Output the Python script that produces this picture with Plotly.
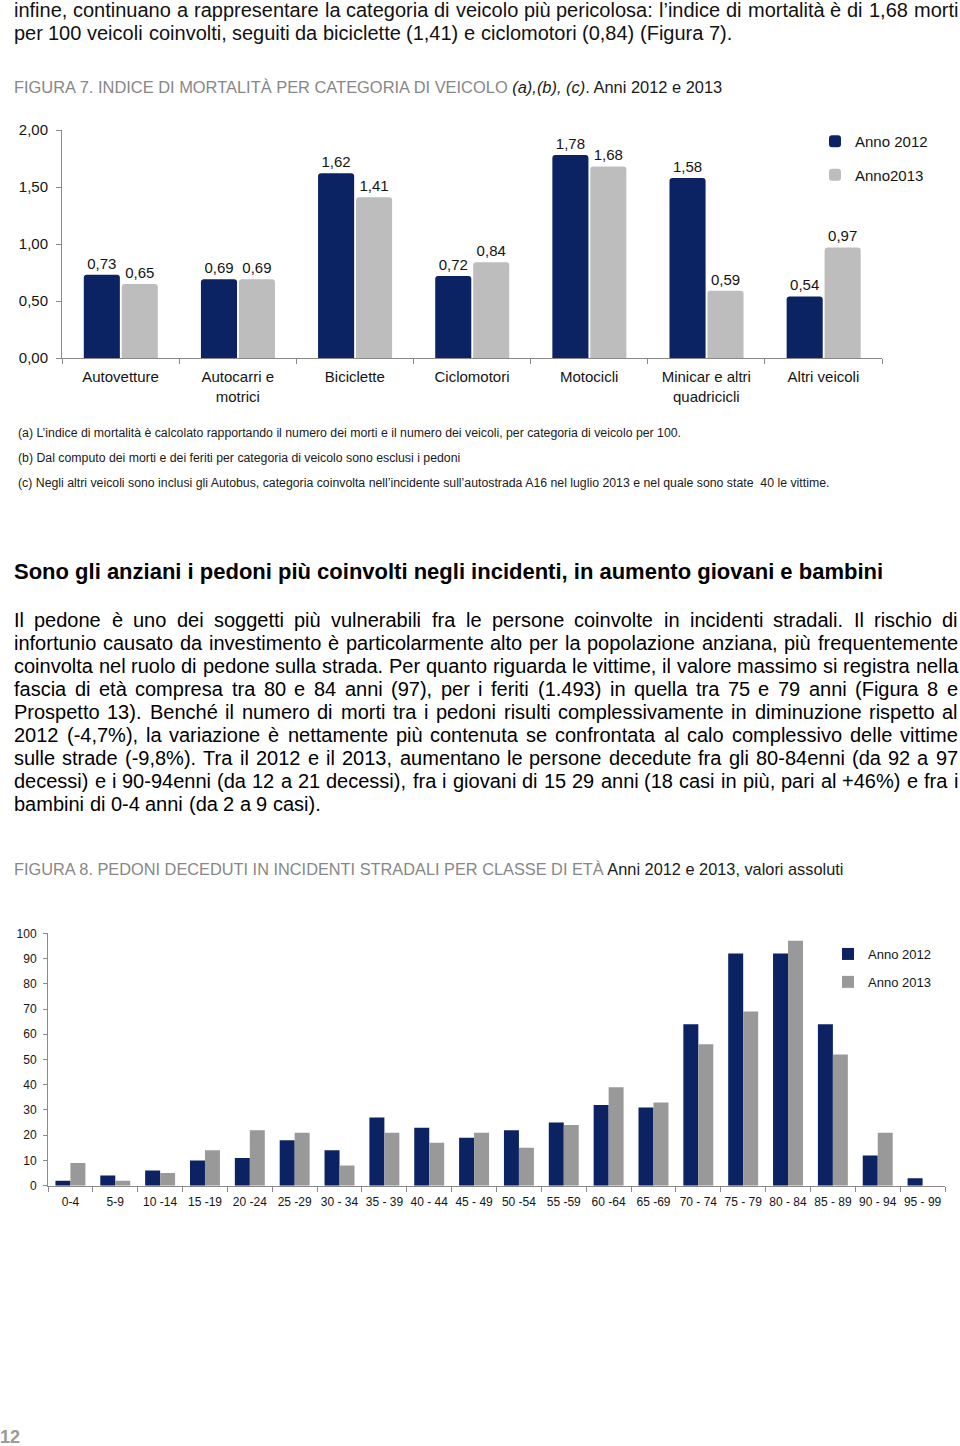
import plotly.graph_objects as go

W, H = 960, 1446

# ---------------- data ----------------
vehicle_categories = ["Autovetture", "Autocarri e<br>motrici", "Biciclette", "Ciclomotori",
                      "Motocicli", "Minicar e altri<br>quadricicli", "Altri veicoli"]
mortality_2012 = [0.73, 0.69, 1.62, 0.72, 1.78, 1.58, 0.54]
mortality_2013 = [0.65, 0.69, 1.41, 0.84, 1.68, 0.59, 0.97]
fig7_yticks = [0.0, 0.5, 1.0, 1.5, 2.0]

age_classes = ["0-4", "5-9", "10 -14", "15 -19", "20 -24", "25 -29", "30 - 34", "35 - 39",
               "40 - 44", "45 - 49", "50 -54", "55 -59", "60 -64", "65 -69", "70 - 74",
               "75 - 79", "80 - 84", "85 - 89", "90 - 94", "95 - 99"]
pedestrians_2012 = [2, 4, 6, 10, 11, 18, 14, 27, 23, 19, 22, 25, 32, 31, 64, 92, 92, 64, 12, 3]
pedestrians_2013 = [9, 2, 5, 14, 22, 21, 8, 21, 17, 21, 15, 24, 39, 33, 56, 69, 97, 52, 21, 0]
fig8_yticks = [0, 10, 20, 30, 40, 50, 60, 70, 80, 90, 100]

intro_lines = [
    "infine, continuano a rappresentare la categoria di veicolo più pericolosa: l’indice di mortalità è di 1,68 morti",
    "per 100 veicoli coinvolti, seguiti da biciclette (1,41) e ciclomotori (0,84) (Figura 7).",
]
fig7_title_gray = "FIGURA 7. INDICE DI MORTALITÀ PER CATEGORIA DI VEICOLO"
fig7_title_notes = "(a),(b), (c)"
fig7_title_rest = ". Anni 2012 e 2013"
footnotes = [
    "(a) L’indice di mortalità è calcolato rapportando il numero dei morti e il numero dei veicoli, per categoria di veicolo per 100.",
    "(b) Dal computo dei morti e dei feriti per categoria di veicolo sono esclusi i pedoni",
    "(c) Negli altri veicoli sono inclusi gli Autobus, categoria coinvolta nell’incidente sull’autostrada A16 nel luglio 2013 e nel quale sono state  40 le vittime.",
]
heading = "Sono gli anziani i pedoni più coinvolti negli incidenti, in aumento giovani e bambini"
paragraph_lines = [
    "Il pedone è uno dei soggetti più vulnerabili fra le persone coinvolte in incidenti stradali. Il rischio di",
    "infortunio causato da investimento è particolarmente alto per la popolazione anziana, più frequentemente",
    "coinvolta nel ruolo di pedone sulla strada. Per quanto riguarda le vittime, il valore massimo si registra nella",
    "fascia di età compresa tra 80 e 84 anni (97), per i feriti (1.493) in quella tra 75 e 79 anni (Figura 8 e",
    "Prospetto 13). Benché il numero di morti tra i pedoni risulti complessivamente in diminuzione rispetto al",
    "2012 (-4,7%), la variazione è nettamente più contenuta se confrontata al calo complessivo delle vittime",
    "sulle strade (-9,8%). Tra il 2012 e il 2013, aumentano le persone decedute fra gli 80-84enni (da 92 a 97",
    "decessi) e i 90-94enni (da 12 a 21 decessi), fra i giovani di 15 29 anni (18 casi in più, pari al +46%) e fra i",
    "bambini di 0-4 anni (da 2 a 9 casi).",
]
fig8_title_gray = "FIGURA 8. PEDONI DECEDUTI IN INCIDENTI STRADALI PER CLASSE DI ETÀ"
fig8_title_rest = " Anni 2012 e 2013, valori assoluti"
page_number = "12"

# ---------------- styles ----------------
NAVY = "#0b2263"
GRAY1 = "#bdbdbd"
GRAY2 = "#999999"
AXIS = "#8a8a8a"
TITLE_GRAY = "#878787"
TXT = "#141414"
SANS = "Liberation Sans, Arial, sans-serif"


def px(x):
    return x / W


def py(y):
    return 1 - y / H


def fmt_it(v):
    return f"{v:.2f}".replace(".", ",")


ARIAL = {" ": 278, "!": 278, "%": 889, "'": 191, "’": 222, "(": 333, ")": 333, "+": 584, ",": 278,
         "-": 333, ".": 278, "/": 278, ":": 278, ";": 278,
         "A": 667, "B": 667, "C": 722, "D": 722, "E": 667, "F": 611, "G": 778, "H": 722, "I": 278,
         "J": 500, "K": 667, "L": 556, "M": 833, "N": 722, "O": 778, "P": 667, "Q": 778, "R": 722,
         "S": 667, "T": 611, "U": 722, "V": 667, "W": 944, "X": 667, "Y": 667, "Z": 611,
         "À": 667,
         "a": 556, "b": 556, "c": 500, "d": 556, "e": 556, "f": 278, "g": 556, "h": 556, "i": 222,
         "j": 222, "k": 500, "l": 222, "m": 833, "n": 556, "o": 556, "p": 556, "q": 556, "r": 333,
         "s": 500, "t": 278, "u": 556, "v": 500, "w": 722, "x": 500, "y": 500, "z": 500,
         "à": 556, "è": 556, "é": 556, "ù": 556, "ì": 222, "ò": 556}
for d in "0123456789":
    ARIAL[d] = 556


def tw(s, size):
    return sum(ARIAL.get(c, 556) for c in s) * size / 1000.0


fig = go.Figure()

# ---------------- Figure 7 ----------------
fig.add_trace(go.Bar(
    x=vehicle_categories, y=mortality_2012, name="Anno 2012",
    marker=dict(color=NAVY, cornerradius=3, line=dict(width=0)),
    width=0.308, offset=-0.314,
    text=[fmt_it(v) for v in mortality_2012], textposition="outside", constraintext="none",
    textfont=dict(family=SANS, size=15, color=TXT), cliponaxis=False,
    xaxis="x", yaxis="y", legend="legend", legendgroup="a", hoverinfo="skip"))
fig.add_trace(go.Bar(
    x=vehicle_categories, y=mortality_2013, name="Anno2013",
    marker=dict(color=GRAY1, cornerradius=3, line=dict(width=0)),
    width=0.308, offset=0.01,
    text=[fmt_it(v) for v in mortality_2013], textposition="outside", constraintext="none",
    textfont=dict(family=SANS, size=15, color=TXT), cliponaxis=False,
    xaxis="x", yaxis="y", legend="legend", legendgroup="b", hoverinfo="skip"))

# ---------------- Figure 8 ----------------
fig.add_trace(go.Bar(
    x=age_classes, y=pedestrians_2012, name="Anno 2012",
    marker=dict(color=NAVY, line=dict(width=0)),
    width=0.334, offset=-0.334,
    xaxis="x2", yaxis="y2", legend="legend2", legendgroup="c", hoverinfo="skip"))
fig.add_trace(go.Bar(
    x=age_classes, y=pedestrians_2013, name="Anno 2013",
    marker=dict(color=GRAY2, line=dict(width=0)),
    width=0.334, offset=0.0,
    xaxis="x2", yaxis="y2", legend="legend2", legendgroup="d", hoverinfo="skip"))

fig.update_layout(
    width=W, height=H, margin=dict(l=0, r=0, t=0, b=0, autoexpand=False),
    paper_bgcolor="white", plot_bgcolor="white", separators=",.",
    font=dict(family=SANS, color=TXT),
    barmode="group", showlegend=True,
    xaxis=dict(domain=[px(62), px(882)], anchor="y", type="category", range=[-0.5, 6.5],
               showline=True, linecolor=AXIS, linewidth=1, ticks="outside", tickson="boundaries",
               ticklen=5, tickcolor=AXIS, showgrid=False, tickfont=dict(family=SANS, size=15, color=TXT),
               ticklabelstandoff=5, fixedrange=True, automargin=False),
    yaxis=dict(domain=[py(358), py(130)], anchor="x", range=[0, 2], tickvals=fig7_yticks,
               tickformat=".2f", showline=True, linecolor=AXIS, linewidth=1, ticks="outside",
               ticklen=5, tickcolor=AXIS, showgrid=False, zeroline=False, ticklabelstandoff=5,
               tickfont=dict(family=SANS, size=15, color=TXT), fixedrange=True, automargin=False),
    xaxis2=dict(domain=[px(48), px(945)], anchor="y2", type="category", range=[-0.5, 19.5],
                showline=True, linecolor=AXIS, linewidth=1, ticks="outside", tickson="boundaries",
                ticklen=5, tickcolor=AXIS, showgrid=False, tickfont=dict(family=SANS, size=12, color=TXT),
                ticklabelstandoff=5, tickangle=0, fixedrange=True, automargin=False),
    yaxis2=dict(domain=[py(1185.7), py(933.3)], anchor="x2", range=[0, 100], tickvals=fig8_yticks,
                showline=True, linecolor=AXIS, linewidth=1, ticks="outside", ticklen=4, tickcolor=AXIS,
                showgrid=False, zeroline=False, ticklabelstandoff=4,
                tickfont=dict(family=SANS, size=12, color=TXT), fixedrange=True, automargin=False),
    legend=dict(x=px(815), y=py(125), xanchor="left", yanchor="top", bgcolor="rgba(0,0,0,0)",
                borderwidth=0, font=dict(family=SANS, size=15, color=TXT), tracegroupgap=11,
                traceorder="grouped"),
    legend2=dict(x=px(828), y=py(939), xanchor="left", yanchor="top", bgcolor="rgba(0,0,0,0)",
                 borderwidth=0, font=dict(family=SANS, size=13, color=TXT), tracegroupgap=8,
                 traceorder="grouped"),
)

annotations = []


def add_text(x, y, text, size, color=TXT, anchor="left"):
    annotations.append(dict(x=px(x), y=py(y), xref="paper", yref="paper", text=text,
                            showarrow=False, xanchor=anchor, yanchor="middle",
                            borderpad=0, borderwidth=0,
                            font=dict(family=SANS, size=size, color=color)))


def add_line(line, y, size, x0, x1, justify, color=TXT):
    words = line.split(" ")
    widths = [tw(w, size) for w in words]
    space_w = tw(" ", size)
    natural = sum(widths) + space_w * (len(words) - 1)
    extra = (x1 - x0 - natural) / (len(words) - 1) if (justify and len(words) > 1) else 0
    x = x0
    for w, wd in zip(words, widths):
        if w:
            add_text(x, y, w, size, color)
        x += wd + space_w + extra


# intro text
add_line(intro_lines[0], 10, 20, 14, 958, True, "#111111")
add_line(intro_lines[1], 33, 20, 14, 958, False, "#111111")

# figure 7 title (size fitted to the printed width)
t7_size = 714 / tw(fig7_title_gray + " " + fig7_title_notes + fig7_title_rest, 1)
add_text(14, 87, f"<span style='color:{TITLE_GRAY}'>{fig7_title_gray}</span>"
                 f" <i>{fig7_title_notes}</i>{fig7_title_rest}", t7_size, "#1a1a1a")

# footnotes (size fitted to the printed width)
fn_targets = [665, 443, 812]
fn_size = sum(t / tw(f, 1) for t, f in zip(fn_targets, footnotes)) / 3
for i, fn in enumerate(footnotes):
    add_text(18, 433 + 25 * i, fn, fn_size, "#1a1a1a")

# heading
add_text(14, 572, f"<b>{heading}</b>", 22, "#000000")

# justified paragraph
for i, line in enumerate(paragraph_lines):
    add_line(line, 620 + 23 * i, 20, 14, 958, i < len(paragraph_lines) - 1, "#000000")

# figure 8 title
t8_size = 832 / tw(fig8_title_gray + fig8_title_rest, 1)
add_text(14, 869, f"<span style='color:{TITLE_GRAY}'>{fig8_title_gray}</span>{fig8_title_rest}",
         t8_size, "#1a1a1a")

# page number
add_text(0, 1437, f"<b>{page_number}</b>", 18, "#9a9a9a")

fig.update_layout(annotations=annotations)

fig.write_html("out.html")
